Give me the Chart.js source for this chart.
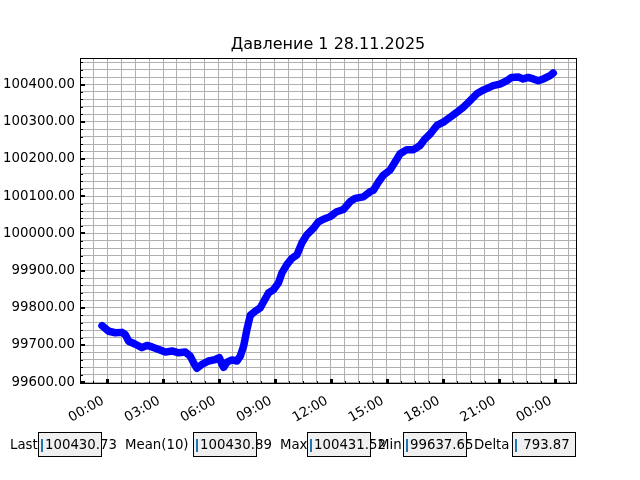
<!DOCTYPE html>
<html>
<head>
<meta charset="utf-8">
<script src="https://cdn.jsdelivr.net/npm/chart.js@4"></script>
<style>
  body { margin: 0; background: #fff; font-family: "DejaVu Sans", sans-serif; }
  #wrap { position: relative; width: 640px; height: 480px; }
  #chart { position: absolute; left: 0; top: 0; }
  .lbl { position: absolute; top: 432px; height: 25px; line-height: 25px; font-size: 13.3px; color: #000; white-space: nowrap; }
  .box { position: absolute; top: 432px; width: 62px; height: 23px; border: 1px solid #000; background: #f0f0f0; }
  .box .cur { position: absolute; left: 2px; top: 6px; width: 2px; height: 13px; background: #1f77b4; }
  .box .val { position: absolute; left: 6px; top: 0; line-height: 23px; font-size: 13.3px; color: #000; white-space: pre; }
</style>
</head>
<body>
<div id="wrap">
  <canvas id="chart" width="640" height="480"></canvas>
</div>
<script>
const chartTitle = "Давление 1 28.11.2025";

// часы от 00:00 28.11
const hours = [
  -0.27, 0.09, 0.44, 0.80, 0.98, 1.16, 1.52, 1.87, 2.14, 2.41, 2.77, 3.12, 3.48, 3.84,
  4.20, 4.46, 4.73, 4.82, 5.09, 5.44, 5.80, 6.02, 6.16, 6.25, 6.43, 6.70, 6.96, 7.14,
  7.32, 7.50, 7.68, 7.95, 8.21, 8.40, 8.66, 8.93, 9.19, 9.37, 9.64, 9.91, 10.18, 10.44,
  10.71, 11.07, 11.33, 11.60, 11.96, 12.31, 12.67, 13.03, 13.30, 13.74, 14.10, 14.28,
  14.55, 14.81, 15.17, 15.44, 15.71, 16.07, 16.43, 16.78, 17.05, 17.32, 17.68, 18.03,
  18.39, 18.75, 19.10, 19.37, 19.82, 20.17, 20.70, 21.06, 21.42, 21.69, 22.05, 22.31,
  22.58, 22.85, 23.12, 23.39, 23.75, 23.92
];
const pressure = [
  99752, 99737, 99733, 99734, 99728, 99710, 99702, 99693, 99699, 99695, 99688, 99681, 99684, 99679,
  99681, 99670, 99644, 99637.65, 99648, 99657, 99661, 99666, 99648, 99640, 99654, 99660, 99657, 99670,
  99697, 99742, 99780, 99791, 99800, 99817, 99840, 99849, 99867, 99893, 99916, 99933, 99942, 99974,
  99996, 100014, 100031, 100038, 100045, 100058, 100064, 100085, 100094, 100098, 100112, 100116,
  100138, 100156, 100170, 100192, 100214, 100225, 100225, 100236, 100254, 100267, 100290, 100299,
  100312, 100325, 100339, 100352, 100375, 100385, 100397, 100401, 100410, 100419, 100420, 100415,
  100419, 100415, 100410, 100415, 100424, 100430.73
];

const statLabels = ["Last", "Mean(10)", "Max", "Min", "Delta"];
const statValues = ["100430.73", "100430.89", "100431.52", "99637.65", " 793.87"];
const labelLeft = [10, 125, 280, 378, 474];
const boxLeft = [38, 193, 307, 403, 512];

const xMin = -1.45, xMax = 25.14;
const yMin = 99597.96, yMax = 100471.21;

const wrap = document.getElementById("wrap");
statLabels.forEach((t, i) => {
  const l = document.createElement("div");
  l.className = "lbl";
  l.style.left = labelLeft[i] + "px";
  l.textContent = t;
  wrap.appendChild(l);
  const b = document.createElement("div");
  b.className = "box";
  b.style.left = boxLeft[i] + "px";
  b.innerHTML = '<div class="cur"></div><div class="val"></div>';
  b.querySelector(".val").textContent = statValues[i];
  wrap.appendChild(b);
});

function isMult(v, step) {
  return Math.abs(v / step - Math.round(v / step)) < 1e-6;
}

// заголовок по центру осей, рамка и внутренние риски как в matplotlib
const framePlugin = {
  id: "frame",
  afterDraw(chart) {
    const ctx = chart.ctx;
    const a = chart.chartArea;
    const xs = chart.scales.x, ys = chart.scales.y;
    ctx.save();
    ctx.fillStyle = "#000";
    ctx.font = "16px 'DejaVu Sans'";
    ctx.textAlign = "center";
    ctx.textBaseline = "middle";
    ctx.fillText(chartTitle, (a.left + a.right) / 2, 45);

    xs.ticks.forEach(t => {
      const px = Math.round(xs.getPixelForValue(t.value));
      if (isMult(t.value, 3)) ctx.fillRect(px - 1, a.bottom - 4, 3, 4);
      else ctx.fillRect(px, a.bottom - 2, 1, 2);
    });
    ys.ticks.forEach(t => {
      const py = Math.round(ys.getPixelForValue(t.value));
      if (isMult(t.value, 100)) ctx.fillRect(a.left, py - 1, 5, 2);
      else ctx.fillRect(a.left, py, 3, 1);
    });
    ctx.strokeStyle = "#000";
    ctx.lineWidth = 1;
    ctx.strokeRect(Math.round(a.left) + 0.5, Math.round(a.top) + 0.5, Math.round(a.right - a.left), Math.round(a.bottom - a.top));
    ctx.restore();
  }
};

new Chart(document.getElementById("chart"), {
  type: "line",
  data: {
    datasets: [{
      data: hours.map((h, i) => ({ x: h, y: pressure[i] })),
      borderColor: "#0000ff",
      borderWidth: 7.5,
      borderJoinStyle: "round",
      borderCapStyle: "round",
      pointRadius: 0,
      tension: 0,
      fill: false
    }]
  },
  options: {
    responsive: false,
    devicePixelRatio: 1,
    animation: false,
    layout: { padding: { left: 0, right: 64, top: 58, bottom: 0 } },
    plugins: {
      legend: { display: false },
      tooltip: { enabled: false },
      title: { display: false }
    },
    scales: {
      x: {
        type: "linear",
        min: xMin,
        max: xMax,
        afterBuildTicks: s => {
          const t = [];
          for (let v = -0.75; v <= 24.75 + 1e-9; v += 0.75) t.push({ value: v });
          s.ticks = t;
        },
        afterFit: s => { s.height = 97; },
        grid: { color: "#b0b0b0", lineWidth: 1, drawTicks: false },
        border: { display: true, color: "#000", width: 1 },
        ticks: {
          autoSkip: false,
          minRotation: 30,
          maxRotation: 30,
          padding: 10,
          labelOffset: -4,
          color: "#000",
          font: { family: "DejaVu Sans", size: 13.3 },
          callback: v => {
            if (!isMult(v, 3)) return "";
            const h = ((Math.round(v) % 24) + 24) % 24;
            return String(h).padStart(2, "0") + ":00";
          }
        }
      },
      y: {
        min: yMin,
        max: yMax,
        afterBuildTicks: s => {
          const t = [];
          for (let v = 99600; v <= 100460; v += 20) t.push({ value: v });
          s.ticks = t;
        },
        afterFit: s => { s.width = 80; },
        grid: { color: "#b0b0b0", lineWidth: 1, drawTicks: false },
        border: { display: true, color: "#000", width: 1 },
        ticks: {
          autoSkip: false,
          padding: 5,
          color: "#000",
          font: { family: "DejaVu Sans", size: 13.3 },
          callback: v => isMult(v, 100) ? v.toFixed(2) : ""
        }
      }
    }
  },
  plugins: [framePlugin]
});
</script>
</body>
</html>
